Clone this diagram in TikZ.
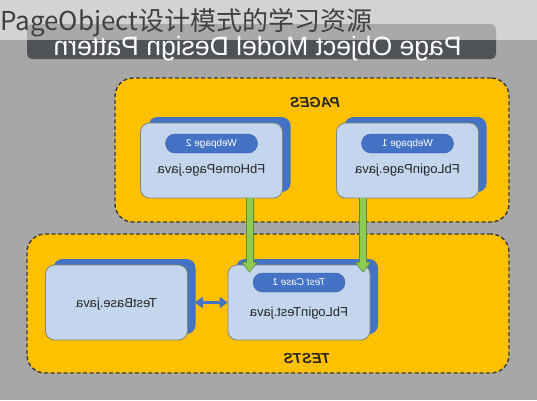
\documentclass[tikz,border=0pt]{standalone}
\usepackage{fontspec}
\setmainfont{Liberation Sans}
\newfontfamily\cjkfont{Noto Sans CJK SC}
\usetikzlibrary{arrows.meta,shadows}

\definecolor{bggray}{HTML}{A7A7A7}
\definecolor{bannergray}{HTML}{4F5357}
\definecolor{groupfill}{HTML}{FFC000}
\definecolor{groupline}{HTML}{3A3A3A}
\definecolor{cardfill}{HTML}{C3D6EE}
\definecolor{cardline}{HTML}{858573}
\definecolor{cardblue}{HTML}{4472C4}
\definecolor{flowgreen}{HTML}{8DCB52}
\definecolor{flowdark}{HTML}{5E8A35}

\begin{document}
\begin{tikzpicture}[x=1pt,y=-1pt,
    mirror/.style={xscale=-1},
    group/.style={draw=groupline,fill=groupfill,line width=1.4pt,dash pattern=on 4pt off 2.5pt,
                  rounded corners=18pt},
    grouplabel/.style={mirror,font=\fontsize{14.5}{16}\selectfont\bfseries\itshape,text=black!85},
    card/.style={draw=cardline,fill=cardfill,line width=0.8pt,rounded corners=9pt,
                 minimum width=142pt,minimum height=75pt,
                 general shadow={shadow xshift=8pt,shadow yshift=6pt,fill=cardblue,draw=none}},
    tag/.style={mirror,fill=cardblue,draw=cardblue!85!black,rounded corners=9.5pt,
                minimum width=92pt,minimum height=19pt,inner sep=0pt,text=white,
                font=\fontsize{10}{11}\selectfont},
    file/.style={mirror,font=\fontsize{13}{15}\selectfont,text=black!85},
    flow/.style={-{Triangle[length=9pt,width=13pt]},line width=6pt,draw=flowgreen,shorten >=-7pt,
                 preaction={draw=flowdark,line width=8pt,-{Triangle[length=10.5pt,width=16pt]},shorten >=-8pt}},
    link/.style={{Triangle[length=8pt,width=11pt]}-{Triangle[length=8pt,width=11pt]},
                 line width=3pt,draw=cardblue,shorten <=7pt}]

    % Hintergrund
    \useasboundingbox (0,0) rectangle (537,400);
    \fill[bggray] (0,0) rectangle (537,400);

    % Banner
    \node[fill=bannergray,rounded corners=5pt,minimum width=469pt,minimum height=35pt,inner sep=0pt]
        (banner) at (261.5,41.5) {};
    \node[mirror,anchor=base,text=white,font=\fontsize{26.5}{28}\selectfont] (bannertext) at (257.5,55.5)
        {Page Object Model Design Pattern};
    \fill[white,opacity=0.5] (0,0) rectangle (537,40);
    \node[anchor=base west,inner sep=0pt,text=black!75,font=\cjkfont\fontsize{26}{30}\selectfont]
        (title) at (0,30) {PageObject设计模式的学习资源};

    % Pages
    \node[group,minimum width=394pt,minimum height=144pt] (pages) at (312,150) {};
    \node[grouplabel] (pageslabel) at (315,103) {PAGES};

    \node[card] (p2) at (211.5,160.5) {};
    \node[tag] (p2tag) at ([yshift=17pt]p2.center) {Webpage 2};
    \node[file] (p2file) at ([yshift=-9.5pt]p2.center) {FbHomePage.java};

    \node[card] (p1) at (407.5,160.5) {};
    \node[tag] (p1tag) at ([yshift=17pt]p1.center) {Webpage 1};
    \node[file] (p1file) at ([yshift=-9.5pt]p1.center) {FbLoginPage.java};

    % Tests
    \node[group,minimum width=482pt,minimum height=139pt] (tests) at (268,303.5) {};
    \node[grouplabel] (testslabel) at (307,358) {TESTS};

    \node[card] (tb) at (116.5,302.5) {};
    \node[file] (tbfile) at ([yshift=-1.5pt]tb.center) {TestBase.java};

    \node[card] (t1) at (299,302.5) {};
    \node[tag,font=\fontsize{10}{11}\selectfont\itshape] (t1tag) at ([yshift=20pt]t1.center) {Test Case 1};
    \node[file] (t1file) at ([yshift=-10.5pt]t1.center) {FbLoginTest.java};

    % Verbindungen
    \draw[flow] ([xshift=38pt]p2.south) -- ([xshift=38pt]p2.south |- t1.north);
    \draw[flow] ([xshift=-44.5pt]p1.south) -- ([xshift=-44.5pt]p1.south |- t1.north);
    \draw[link] (tb) -- (t1);
\end{tikzpicture}
\end{document}
